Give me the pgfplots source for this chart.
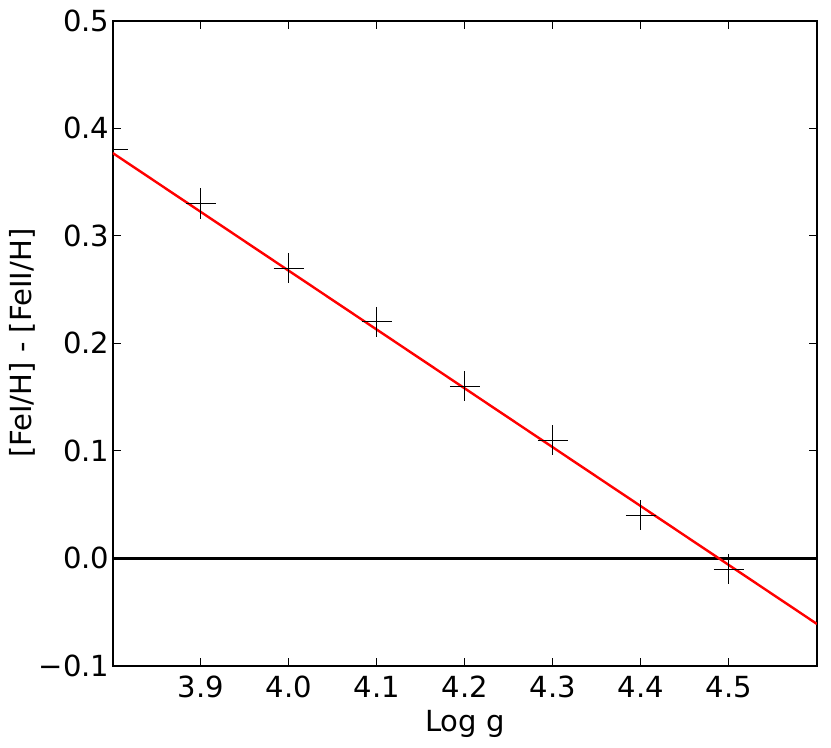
\documentclass[border=0pt]{standalone}
\usepackage{fontspec}
\setmainfont{DejaVu Sans}
\usepackage{pgfplots}
\pgfplotsset{compat=1.18}

\begin{document}
\fontsize{14.5}{17}\selectfont
\begin{tikzpicture}
\begin{axis}[
  name=ax,
  scale only axis,
  width=351.5pt, height=322pt,
  xmin=3.8, xmax=4.6,
  ymin=-0.1, ymax=0.5,
  xtick={3.9,4.0,4.1,4.2,4.3,4.4,4.5},
  ytick={-0.1,0,0.1,0.2,0.3,0.4,0.5},
  yticklabels={−0.1,0.0,0.1,0.2,0.3,0.4,0.5},
  xticklabel style={/pgf/number format/.cd,fixed,fixed zerofill,precision=1},
  yticklabel style={inner xsep=1.5pt},
  /pgf/number format/assume math mode=true,
  tick align=inside,
  major tick length=4pt,
  tick style={black, line width=0.5pt},
  axis line style={line width=1.1pt},
  xlabel={Log g},
  ylabel={[FeI/H] - [FeII/H]},
  xlabel style={yshift=3.5pt},
  ylabel style={yshift=-5pt},
  clip marker paths=true,
]
\addplot[black, line width=1.2pt, forget plot] coordinates {(3.8,0) (4.6,0)};
\addplot[red, line width=1.2pt] coordinates {(3.8,0.377) (4.6,-0.061)};
\addplot[only marks, mark=+, mark size=7.5pt, mark options={line width=0.5pt}, black] coordinates {
  (3.8,0.38) (3.9,0.33) (4.0,0.27) (4.1,0.22) (4.2,0.16) (4.3,0.11) (4.4,0.04) (4.5,-0.01)
};
\end{axis}
\path (ax.north east) ++(7pt,0) coordinate (r);
\end{tikzpicture}
\end{document}
